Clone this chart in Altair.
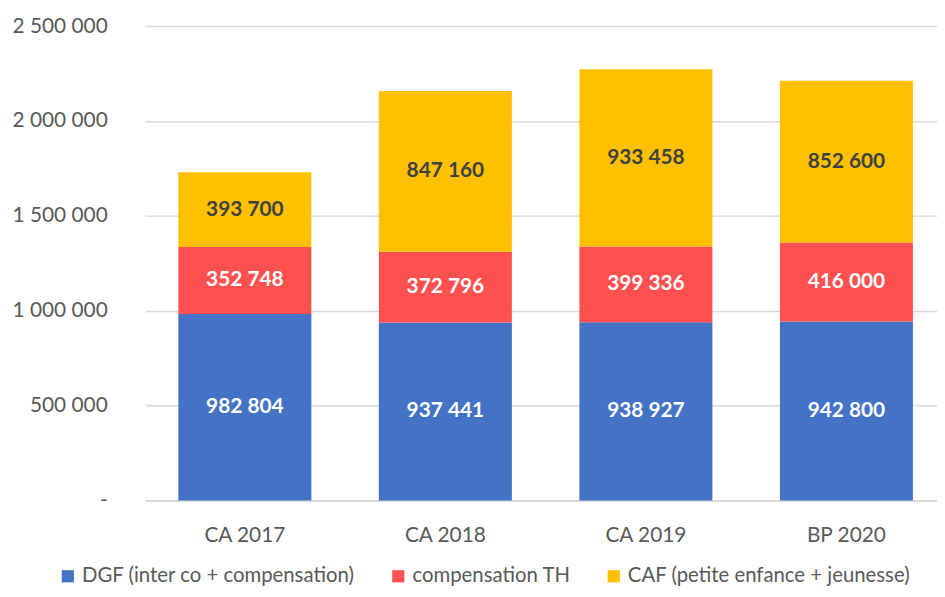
import altair as alt
import pandas as pd

categories = ["CA 2017", "CA 2018", "CA 2019", "BP 2020"]
series = ["DGF (inter co + compensation)", "compensation TH", "CAF (petite enfance + jeunesse)"]
dgf = [982804, 937441, 938927, 942800]
comp_th = [352748, 372796, 399336, 416000]
caf = [393700, 847160, 933458, 852600]
colors = ["#4472C4", "#FF5050", "#FFC000"]
text_colors = ["#FFFFFF", "#FFFFFF", "#404040"]

rows = []
for s_i, (name, vals) in enumerate(zip(series, [dgf, comp_th, caf])):
    for c, v in zip(categories, vals):
        rows.append({"cat": c, "serie": name, "value": v, "ord": s_i,
                     "label": f"{v:,}".replace(",", " "), "tcolor": text_colors[s_i]})
df = pd.DataFrame(rows)

FONT = "Lato"

base = alt.Chart(df)

bars = base.mark_bar(size=134).encode(
    x=alt.X("cat:N", sort=categories, title=None,
            scale=alt.Scale(paddingInner=0.34, paddingOuter=0.145, align=0.58),
            axis=alt.Axis(labelAngle=0, ticks=False, domainColor="#d9d9d9", domainWidth=1.5,
                          labelFontSize=21, labelColor="#595959", labelFont=FONT, labelPadding=24)),
    y=alt.Y("value:Q", stack="zero", title=None,
            scale=alt.Scale(domain=[0, 2500000], nice=False),
            axis=alt.Axis(values=[0, 500000, 1000000, 1500000, 2000000, 2500000],
                          domain=False, ticks=False, gridColor="#d9d9d9", gridWidth=1.5,
                          labelFontSize=21, labelColor="#595959", labelFont=FONT, labelPadding=38,
                          labelExpr="datum.value == 0 ? '-' : replace(replace(format(datum.value, ','), ',', ' '), ',', ' ')")),
    color=alt.Color("serie:N", sort=series,
                    scale=alt.Scale(domain=series, range=colors),
                    legend=alt.Legend(title=None, orient="none", direction="horizontal",
                                      legendX=-88, legendY=544,
                                      symbolType="square", symbolSize=150, symbolStrokeWidth=0,
                                      labelFontSize=20.5, labelColor="#595959", labelFont=FONT,
                                      labelLimit=0, columnPadding=33, labelOffset=4)),
    order=alt.Order("ord:Q"),
)

texts = base.transform_stack(
    stack="value", groupby=["cat"], sort=[alt.SortField("ord")], as_=["y0", "y1"]
).transform_calculate(
    mid="(datum.y0 + datum.y1) / 2"
).mark_text(fontSize=21, fontWeight="bold", font=FONT).encode(
    x=alt.X("cat:N", sort=categories),
    y=alt.Y("mid:Q"),
    text="label:N",
    color=alt.Color("tcolor:N", scale=None),
)

chart = alt.layer(bars, texts).properties(
    width=798, height=478,
    autosize=alt.AutoSizeParams(type="none"),
    padding={"left": 138, "top": 16, "right": 0, "bottom": 87},
).configure_view(stroke=None)

chart.save("out.html", embed_options={"renderer": "svg", "actions": False})
